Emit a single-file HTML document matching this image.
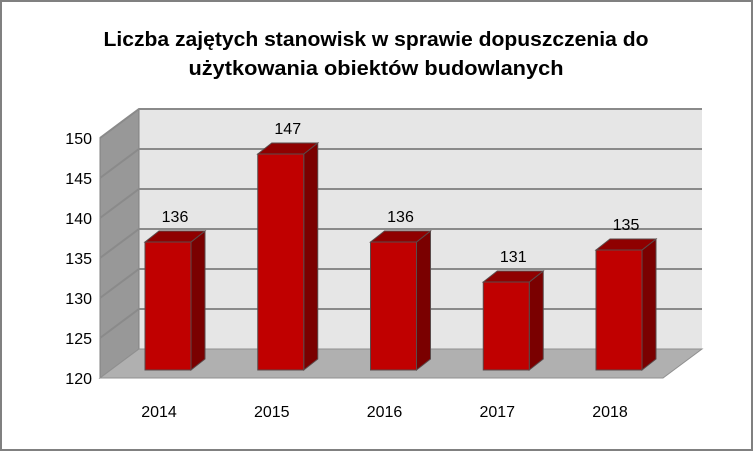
<!DOCTYPE html>
<html><head><meta charset="utf-8"><style>
body{margin:0;background:#fff}
svg{display:block;font-family:"Liberation Sans",sans-serif}
</style></head><body>
<svg width="753" height="451" viewBox="0 0 753 451">
<rect x="1" y="1" width="751" height="449" fill="#fff" stroke="#808080" stroke-width="2"/>
<text x="376" y="46" text-anchor="middle" font-size="20" font-weight="bold" textLength="545" lengthAdjust="spacingAndGlyphs">Liczba zajętych stanowisk w sprawie dopuszczenia do</text>
<text x="376" y="75" text-anchor="middle" font-size="20" font-weight="bold" textLength="375" lengthAdjust="spacingAndGlyphs">użytkowania obiektów budowlanych</text>
<g id="plot"></g>
</svg>
<script>
const categories=["2014","2015","2016","2017","2018"];
const values=[136,147,136,131,135];
const ticks=[120,125,130,135,140,145,150];
const NS="http://www.w3.org/2000/svg";
const g=document.getElementById('plot');
const yMin=120,yMax=150;
const frontY=v=>378-(v-yMin)*8;   // axis at front plane
const barY=v=>370-(v-yMin)*8;     // bar front plane
const DX=39,DY=29;
const xL=100,xR=663;
function mk(t,a){const e=document.createElementNS(NS,t);for(const k in a)e.setAttribute(k,a[k]);g.appendChild(e);return e;}
let e;
e=mk('polygon',{points:`${xL+DX},${frontY(yMax)-DY} ${xR+DX},${frontY(yMax)-DY} ${xR+DX},${frontY(yMin)-DY} ${xL+DX},${frontY(yMin)-DY}`,fill:'#e6e6e6'});


e=mk('polygon',{points:`${xL},${frontY(yMax)} ${xL+DX},${frontY(yMax)-DY} ${xL+DX},${frontY(yMin)-DY} ${xL},${frontY(yMin)}`,fill:'#989898',stroke:'#808080'});


e=mk('polygon',{points:`${xL},${frontY(yMin)} ${xR},${frontY(yMin)} ${xR+DX},${frontY(yMin)-DY} ${xL+DX},${frontY(yMin)-DY}`,fill:'#b0b0b0',stroke:'#909090'});


ticks.forEach(t=>{
  const y=frontY(t);
  if(t>yMin){
    e=mk('polyline',{points:`${xL},${y} ${xL+DX},${y-DY} ${xR+DX},${y-DY}`,fill:'none',stroke:'#8a8a8a','stroke-width':2});
    
    
  }
  e=mk('text',{x:92,y:y+6,'text-anchor':'end','font-size':16,fill:'#000'});
  e.textContent=t;
  
  
});
const step=112.75,x0=168,W=46,bdx=14,bdy=11;
categories.forEach((c,i)=>{
  const cx=x0+i*step,l=cx-W/2,r=cx+W/2,top=barY(values[i]),bot=barY(yMin);
  e=mk('polygon',{points:`${r},${top} ${r+bdx},${top-bdy} ${r+bdx},${bot-bdy} ${r},${bot}`,fill:'#7a0000',stroke:'#5a4a4a'});
  
  
  e=mk('polygon',{points:`${l},${top} ${l+bdx},${top-bdy} ${r+bdx},${top-bdy} ${r},${top}`,fill:'#8f0000',stroke:'#5a4a4a'});
  
  
  e=mk('rect',{x:l,y:top,width:W,height:bot-top,fill:'#c00000',stroke:'#5a4a4a'});
  
  
  e=mk('text',{x:cx+7,y:top-20,'text-anchor':'middle','font-size':16,fill:'#000'});
  e.textContent=values[i];
  
  
  e=mk('text',{x:cx-9,y:417,'text-anchor':'middle','font-size':16,fill:'#000'});
  e.textContent=c;
  
  
});
</script>
</body></html>
